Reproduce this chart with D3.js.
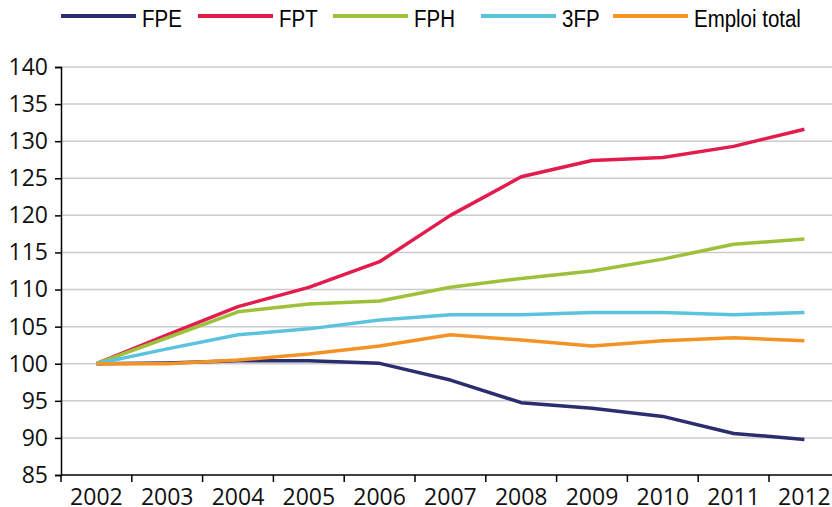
<!DOCTYPE html>
<html>
<head>
<meta charset="utf-8">
<script src="https://cdn.jsdelivr.net/npm/d3@7"></script>
<style>
  body { margin: 0; background: #fff; }
  svg { display: block; }
</style>
</head>
<body>
<script>
// ---------- data ----------
const years = ["2002","2003","2004","2005","2006","2007","2008","2009","2010","2011","2012"];
const seriesNames = ["FPE", "FPT", "FPH", "3FP", "Emploi total"];
const seriesColors = ["#2b2e6e", "#e31c4e", "#9dc13b", "#5cc3dc", "#f39326"];
const fpe    = [100, 100.1, 100.4, 100.4, 100.05, 97.8, 94.75, 94.0, 92.9, 90.6, 89.8];
const fpt    = [100, 103.9, 107.7, 110.3, 113.75, 120.0, 125.2, 127.4, 127.8, 129.3, 131.6];
const fph    = [100, 103.5, 107.0, 108.05, 108.45, 110.3, 111.5, 112.5, 114.1, 116.1, 116.8];
const trois  = [100, 102.0, 103.9, 104.7, 105.9, 106.6, 106.6, 106.9, 106.9, 106.6, 106.9];
const emploi = [100, 100.0, 100.5, 101.3, 102.4, 103.9, 103.2, 102.4, 103.1, 103.5, 103.1];
const yTicks = [85, 90, 95, 100, 105, 110, 115, 120, 125, 130, 135, 140];

const allSeries = [fpe, fpt, fph, trois, emploi];

// ---------- layout ----------
const W = 832, H = 507;
const plotLeft = 61, plotTop = 67, plotBottom = 475, bandW = 70.8;

const svg = d3.select("body").append("svg")
    .attr("width", W).attr("height", H);

const x = d3.scaleBand().domain(years).range([plotLeft, plotLeft + bandW * years.length]);
const y = d3.scaleLinear().domain([85, 140]).range([plotBottom, plotTop]);

// gridlines
svg.append("g")
  .selectAll("line")
  .data(yTicks.filter(d => d > 85))
  .join("line")
    .attr("x1", plotLeft).attr("x2", W)
    .attr("y1", d => y(d)).attr("y2", d => y(d))
    .attr("stroke", "#cccccc").attr("stroke-width", 1.5);

// y axis
const yAxis = svg.append("g")
    .attr("transform", `translate(${plotLeft},0)`)
    .call(d3.axisLeft(y).tickValues(yTicks).tickSize(6).tickPadding(7));
yAxis.select(".domain").attr("stroke", "#000").attr("stroke-width", 1.5);
yAxis.selectAll(".tick line").attr("stroke", "#000").attr("stroke-width", 1.5);
yAxis.selectAll("text")
    .attr("font-family", "'Open Sans', sans-serif")
    .attr("font-size", 23).attr("fill", "#111");

// x axis (ticks between categories)
const xAxis = svg.append("g")
    .attr("transform", `translate(0,${plotBottom})`);
xAxis.append("line")
    .attr("x1", plotLeft).attr("x2", W)
    .attr("stroke", "#000").attr("stroke-width", 1.5);
xAxis.selectAll(".tk")
  .data(years)
  .join("line")
    .attr("class", "tk")
    .attr("x1", d => x(d)).attr("x2", d => x(d))
    .attr("y1", 0).attr("y2", 7)
    .attr("stroke", "#000").attr("stroke-width", 1.5);
xAxis.selectAll("text")
  .data(years)
  .join("text")
    .attr("x", d => x(d) + x.bandwidth() / 2)
    .attr("y", 30)
    .attr("text-anchor", "middle")
    .attr("font-family", "'Open Sans', sans-serif")
    .attr("font-size", 23).attr("fill", "#111")
    .text(d => d);

// lines
const line = d3.line()
    .x((d, i) => x(years[i]) + x.bandwidth() / 2)
    .y(d => y(d));

// draw order: FPE, FPT, FPH, 3FP, Emploi total on top
svg.append("g")
  .selectAll("path")
  .data(allSeries)
  .join("path")
    .attr("d", line)
    .attr("fill", "none")
    .attr("stroke", (d, i) => seriesColors[i])
    .attr("stroke-width", 3.5)
    .attr("stroke-linejoin", "round");

// legend (condensed Arial-like text)
const legendX = [61, 198, 333, 481, 613];
const lg = svg.append("g");
seriesNames.forEach((name, i) => {
  lg.append("line")
    .attr("x1", legendX[i]).attr("x2", legendX[i] + 75)
    .attr("y1", 16).attr("y2", 16)
    .attr("stroke", seriesColors[i]).attr("stroke-width", 4);
  lg.append("text")
    .attr("transform", `translate(${legendX[i] + 81},27) scale(0.89,1)`)
    .attr("font-family", "'Liberation Sans', Arial, sans-serif")
    .attr("font-size", 23).attr("fill", "#000")
    .text(name);
});
</script>
</body>
</html>
